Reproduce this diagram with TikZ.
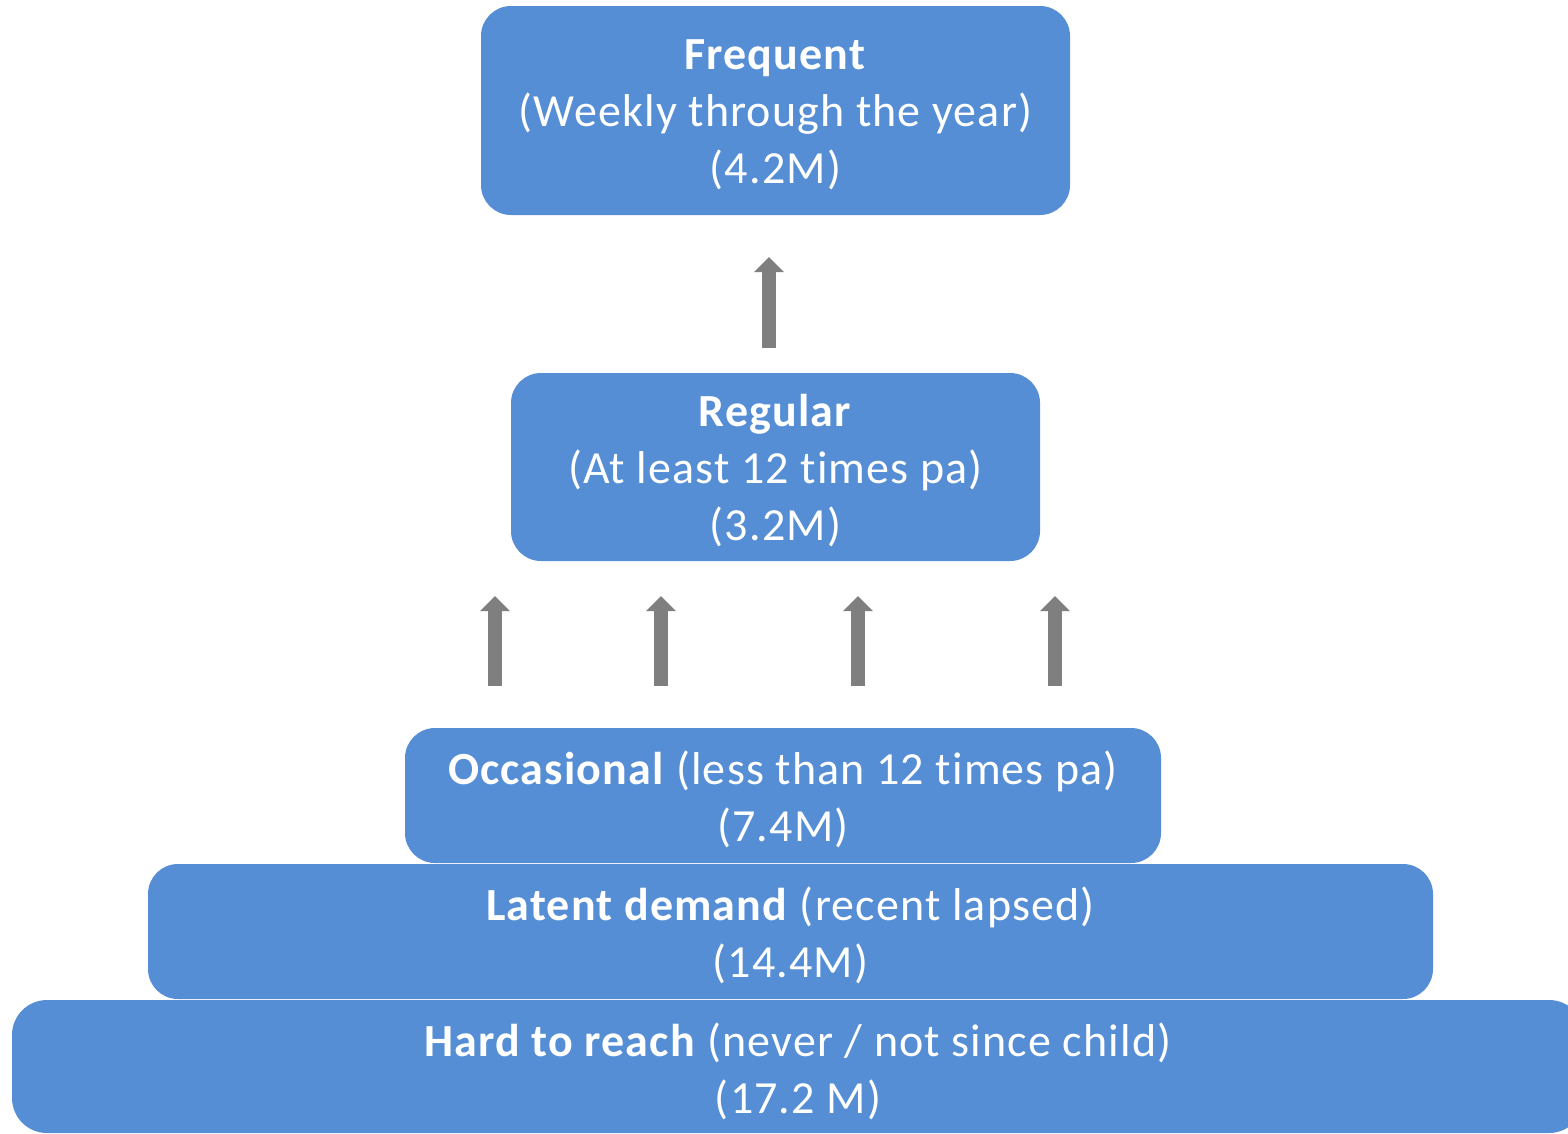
\documentclass[tikz,border=0pt]{standalone}
\usepackage{fontspec}
\setmainfont{Carlito}[LetterSpace=2.5,Ligatures=NoCommon]
\usetikzlibrary{arrows.meta}
\definecolor{boxblue}{RGB}{85,142,213}
\definecolor{arrgrey}{RGB}{127,127,127}
\tikzset{
  tier/.style={draw=none, fill=boxblue, rounded corners=30pt, inner sep=0pt},
  tiertext/.style={text=white, align=center, font=\fontsize{46}{57}\selectfont, inner sep=0pt},
  uparrow/.style={draw=arrgrey, line width=14pt, -{Triangle[width=29pt,length=15pt]}}
}
\begin{document}
\begin{tikzpicture}[x=1pt,y=-1pt]
\useasboundingbox (0,0) rectangle (1568,1133);
\clip (0,0) rectangle (1568,1133);
\fill[white] (0,0) rectangle (1568,1133);
\node[tier, minimum width=589pt, minimum height=209pt] (freq) at (775.5,110.5) {};
\node[tiertext] (freqT) at ([yshift=-4pt]freq.center)
  {\textbf{Frequent}\\(Weekly through the year)\\(4.2M)};
\node[tier, minimum width=529pt, minimum height=188pt] (reg) at (775.5,467) {};
\node[tiertext] (regT) at ([yshift=-4pt]reg.center)
  {\textbf{Regular}\\(At least 12 times pa)\\(3.2M)};
\node[tier, minimum width=756pt, minimum height=135pt] (occ) at (783,795.5) {};
\node[tiertext] (occT) at ([yshift=-4pt]occ.center)
  {\textbf{Occasional} (less than 12 times pa)\\(7.4M)};
\node[tier, minimum width=1285pt, minimum height=135pt] (lat) at (790.5,931.5) {};
\node[tiertext] (latT) at ([yshift=-4pt]lat.center)
  {\textbf{Latent demand} (recent lapsed)\\(14.4M)};
\node[tier, rounded corners=35pt, minimum width=1572pt, minimum height=133pt] (hard) at (798,1066.5) {};
\node[tiertext] (hardT) at ([yshift=-4.5pt]hard.center)
  {\textbf{Hard to reach} (never / not since child)\\(17.2 M)};
\coordinate (t0s) at (769,348); \coordinate (t0e) at (769,257);
\coordinate (t1s) at (495,686); \coordinate (t1e) at (495,596);
\coordinate (t2s) at (661,686); \coordinate (t2e) at (661,596);
\coordinate (t3s) at (858,686); \coordinate (t3e) at (858,596);
\coordinate (t4s) at (1055,686); \coordinate (t4e) at (1055,596);
\foreach \i in {0,...,4} { \draw[uparrow] (t\i s) -- (t\i e); }
\end{tikzpicture}
\end{document}
